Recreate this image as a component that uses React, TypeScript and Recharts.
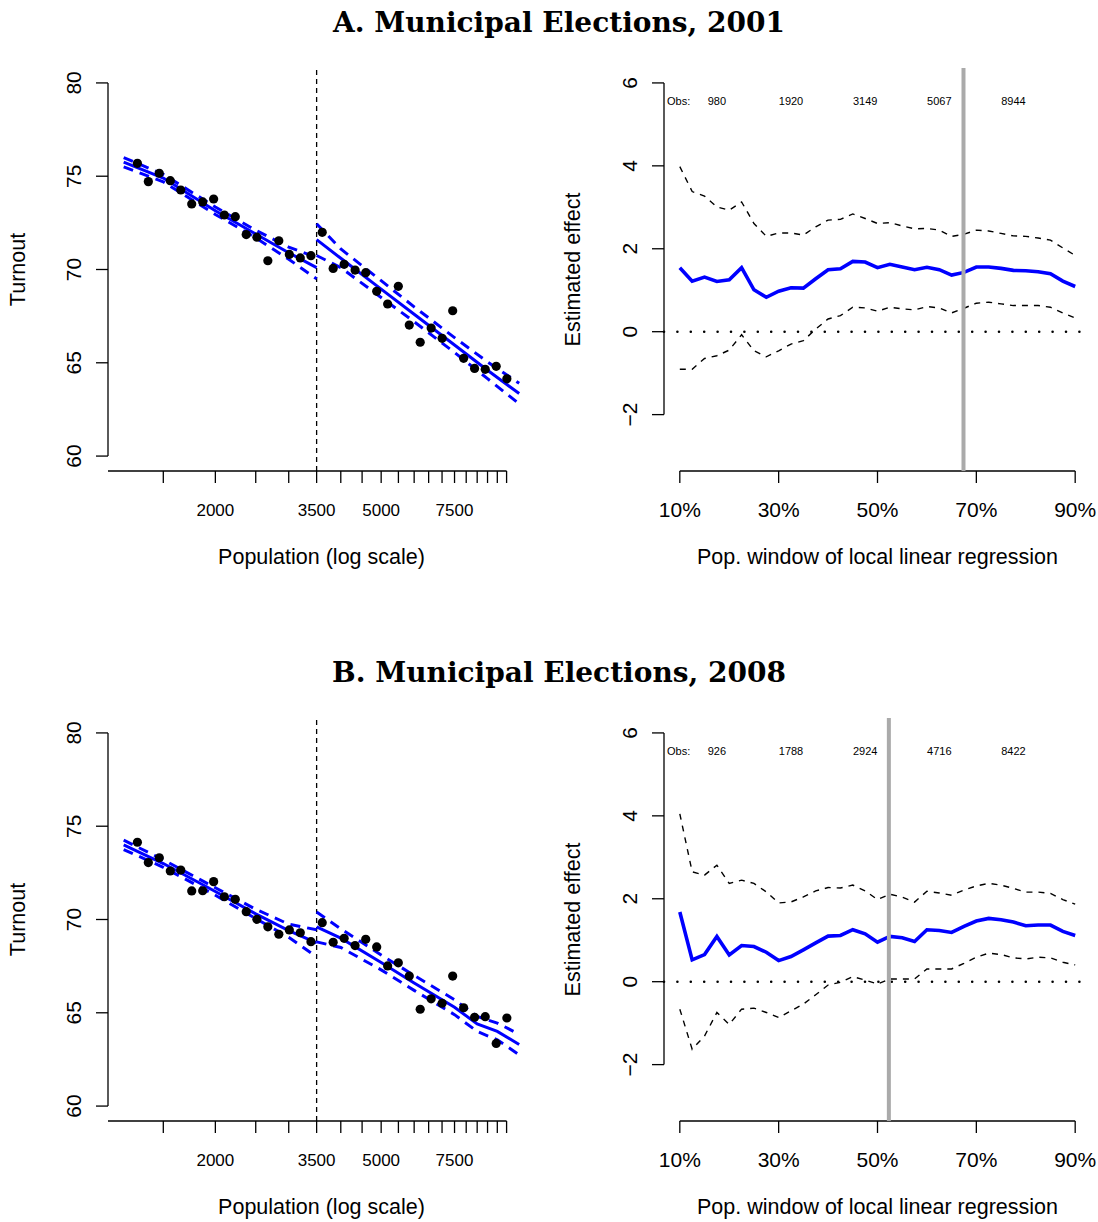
import React from 'react';
import { ComposedChart, XAxis, YAxis, Line, Scatter, ReferenceLine } from 'recharts';

// ---------- Data ----------
// bin centres (population) of the binned turnout averages
const popBins = [1300, 1381, 1467, 1559, 1652, 1755, 1865, 1981, 2102, 2233, 2372, 2516, 2673, 2840, 3010, 3198, 3392,
  3610, 3835, 4075, 4329, 4591, 4878, 5182, 5497, 5840, 6204, 6591, 7003, 7424, 7887, 8379, 8887, 9442, 10015];
const turnout2001 = [75.69, 74.71, 75.16, 74.76, 74.26, 73.51, 73.62, 73.78, 72.92, 72.83, 71.87, 71.73, 70.47, 71.54, 70.81, 70.62, 70.74,
  71.99, 70.06, 70.28, 69.97, 69.83, 68.83, 68.15, 69.10, 67.02, 66.10, 66.86, 66.31, 67.79, 65.24, 64.70, 64.65, 64.81, 64.14];
const turnout2008 = [74.14, 73.05, 73.31, 72.60, 72.65, 71.53, 71.54, 72.03, 71.22, 71.08, 70.42, 70.01, 69.61, 69.21, 69.44, 69.29, 68.81,
  69.83, 68.78, 68.99, 68.60, 68.94, 68.53, 67.51, 67.68, 66.97, 65.19, 65.75, 65.51, 66.97, 65.27, 64.76, 64.79, 63.36, 64.72];

// local linear fits (left / right of the 3500 threshold)
const fitPopLeft = [1205, 1500, 2000, 2500, 3000, 3500];
const fit2001L = [75.75, 74.9, 73.15, 71.9, 70.9, 70.1];
const lo2001L = [75.5, 74.7, 72.95, 71.7, 70.55, 69.5];
const hi2001L = [76.0, 75.1, 73.35, 72.1, 71.2, 70.65];
const fitPopRight2001 = [3500, 4000, 5000, 6000, 7500, 9000, 10720];
const fit2001R = [71.6, 70.6, 68.95, 67.6, 65.95, 64.6, 63.35];
const lo2001R = [70.75, 70.1, 68.5, 67.2, 65.55, 64.15, 62.8];
const hi2001R = [72.45, 71.1, 69.4, 68.0, 66.35, 65.05, 63.9];

const fit2008L = [74.0, 73.0, 71.5, 70.3, 69.4, 68.75];
const lo2008L = [73.75, 72.8, 71.3, 70.05, 69.05, 68.0];
const hi2008L = [74.25, 73.2, 71.7, 70.55, 69.75, 69.45];
const fitPopRight2008 = [3500, 4000, 5000, 6000, 7500, 8500, 9500, 10720];
const fit2008R = [69.6, 69.0, 67.7, 66.6, 65.3, 64.4, 64.0, 63.3];
const lo2008R = [68.8, 68.5, 67.3, 66.2, 64.9, 64.0, 63.55, 62.75];
const hi2008R = [70.4, 69.5, 68.1, 67.0, 65.7, 64.8, 64.45, 63.85];

const popTicks = [1500, 2000, 2500, 3000, 3500, 4000, 4500, 5000, 5500, 6000, 6500, 7000, 7500, 8000, 8500, 9000, 9500, 10000];
const popTickLabels = [2000, 3500, 5000, 7500];
const turnoutTicks = [60, 65, 70, 75, 80];
const threshold = 3500;

// window-size sensitivity
const windows = [10, 12.5, 15, 17.5, 20, 22.5, 25, 27.5, 30, 32.5, 35, 37.5, 40, 42.5, 45, 47.5, 50, 52.5, 55, 57.5, 60,
  62.5, 65, 67.5, 70, 72.5, 75, 77.5, 80, 82.5, 85, 87.5, 90];
const est2001 = [1.544, 1.22, 1.317, 1.212, 1.253, 1.544, 1.01, 0.83, 0.977, 1.059, 1.05, 1.277, 1.495, 1.519, 1.697, 1.68,
  1.544, 1.624, 1.56, 1.495, 1.552, 1.495, 1.366, 1.43, 1.56, 1.56, 1.527, 1.479, 1.471, 1.447, 1.398, 1.22, 1.09];
const hiEst2001 = [3.98, 3.38, 3.27, 3.01, 2.93, 3.13, 2.61, 2.30, 2.38, 2.38, 2.33, 2.53, 2.69, 2.71, 2.84, 2.73, 2.61,
  2.63, 2.55, 2.48, 2.49, 2.45, 2.30, 2.35, 2.45, 2.43, 2.37, 2.31, 2.30, 2.26, 2.21, 2.02, 1.84];
const loEst2001 = [-0.905, -0.905, -0.646, -0.58, -0.444, -0.073, -0.46, -0.606, -0.46, -0.299, -0.218, 0.065, 0.307, 0.388,
  0.59, 0.574, 0.493, 0.59, 0.55, 0.525, 0.606, 0.574, 0.453, 0.566, 0.687, 0.711, 0.671, 0.63, 0.63, 0.63, 0.59, 0.453, 0.331];
const est2008 = [1.68, 0.526, 0.655, 1.09, 0.646, 0.873, 0.848, 0.711, 0.509, 0.606, 0.768, 0.937, 1.099, 1.115, 1.253,
  1.156, 0.954, 1.091, 1.059, 0.97, 1.253, 1.236, 1.188, 1.333, 1.462, 1.527, 1.495, 1.438, 1.35, 1.366, 1.366, 1.212, 1.115];
const hiEst2008 = [4.048, 2.65, 2.57, 2.81, 2.37, 2.45, 2.37, 2.165, 1.899, 1.923, 2.044, 2.19, 2.27, 2.26, 2.33, 2.19, 1.98,
  2.11, 2.04, 1.92, 2.18, 2.14, 2.085, 2.21, 2.31, 2.37, 2.33, 2.25, 2.16, 2.16, 2.13, 1.98, 1.87];
const loEst2008 = [-0.663, -1.63, -1.31, -0.743, -1.03, -0.663, -0.638, -0.743, -0.865, -0.703, -0.541, -0.315, -0.081,
  -0.016, 0.121, 0.04, -0.057, 0.065, 0.065, 0.065, 0.307, 0.307, 0.307, 0.444, 0.59, 0.687, 0.655, 0.574, 0.549, 0.59, 0.574, 0.469, 0.404];
const selectedWindow2001 = 67.4;
const selectedWindow2008 = 52.3;
const obsWindows = [17.5, 32.5, 47.5, 62.5, 77.5];
const obs2001 = [980, 1920, 3149, 5067, 8944];
const obs2008 = [926, 1788, 2924, 4716, 8422];
const obsLabelLevel = 5.56;
const obsTitleWindow = 7.4;
const windowTicks = [10, 30, 50, 70, 90];
const effectTicks = [-2, 0, 2, 4, 6];

// ---------- Styling ----------
const SANS = "'Liberation Sans', Arial, Helvetica, sans-serif";
const SERIF = "'DejaVu Serif', serif";
const BLUE = '#0000FF';
const TICK = { stroke: '#000', strokeWidth: 1.3 };

const fitRows = (xs: number[], fit: number[], lo: number[], hi: number[]) =>
  xs.map((x, i) => ({ x, fit: fit[i], lo: lo[i], hi: hi[i] }));

const fmtNum = (v: number) => (v < 0 ? `\u2212${Math.abs(v)}` : String(v));

const makeYTick = (bx: number) => (props: any) => {
  const { y, payload } = props;
  return (
    <text x={bx} y={y} transform={`rotate(-90, ${bx}, ${y})`} textAnchor="middle" fontSize={21} fontFamily={SANS} fill="#000">
      {fmtNum(payload.value)}
    </text>
  );
};

const XLogTick = (props: any) => {
  const { x, payload } = props;
  const lab = popTickLabels.includes(payload.value) ? String(payload.value) : '';
  return (
    <text x={x} y={516} textAnchor="middle" fontSize={17} fontFamily={SANS} fill="#000">{lab}</text>
  );
};

const XPctTick = (props: any) => {
  const { x, payload } = props;
  return (
    <text x={x} y={517} textAnchor="middle" fontSize={21} fontFamily={SANS} fill="#000">{`${payload.value}%`}</text>
  );
};

const DotShape = (p: any) => <circle cx={p.cx} cy={p.cy} r={4.6} fill="#000" />;

const ObsShape = (p: any) => (
  <text x={p.cx} y={p.cy} dy={4} textAnchor={p.payload.anchor} fontSize={11} fontFamily={SANS} fill="#000">
    {p.payload.label}
  </text>
);

const POP_DOMAIN = [1105, 11700];
const TURN_DOMAIN = [59.2, 80.8];
const WIN_DOMAIN = [6.8, 93.2];
const EFF_DOMAIN = [-3.36, 6.36];

function ScatterPanel({ top, turnout, left, right }: any) {
  const pts = popBins.map((x, i) => ({ x, y: turnout[i] }));
  const dashed = { stroke: BLUE, strokeWidth: 3, strokeDasharray: '10 7', dot: false, activeDot: false, isAnimationActive: false, type: 'linear' as const };
  const solid = { stroke: BLUE, strokeWidth: 3, dot: false, activeDot: false, isAnimationActive: false, type: 'linear' as const };
  return (
    <div style={{ position: 'absolute', left: 0, top }}>
      <ComposedChart width={549} height={650} margin={{ top: 68, right: 14, bottom: 79, left: 0 }}>
        <XAxis type="number" dataKey="x" scale="log" domain={POP_DOMAIN} allowDataOverflow ticks={popTicks} interval={0}
          axisLine={false} tickLine={TICK} tickSize={12} height={100} tick={XLogTick} />
        <YAxis type="number" domain={TURN_DOMAIN} allowDataOverflow ticks={turnoutTicks} interval={0}
          axisLine={false} tickLine={TICK} tickSize={12} width={108} tick={makeYTick(81)} />
        <ReferenceLine segment={[{ x: POP_DOMAIN[0], y: TURN_DOMAIN[0] }, { x: 10000, y: TURN_DOMAIN[0] }]} stroke="#000" strokeWidth={1.3} ifOverflow="visible" />
        <ReferenceLine segment={[{ x: POP_DOMAIN[0], y: 60 }, { x: POP_DOMAIN[0], y: 80 }]} stroke="#000" strokeWidth={1.3} ifOverflow="visible" />
        <ReferenceLine x={threshold} stroke="#000" strokeWidth={1.3} strokeDasharray="5 4" />
        <Line data={left} dataKey="fit" {...solid} />
        <Line data={left} dataKey="lo" {...dashed} />
        <Line data={left} dataKey="hi" {...dashed} />
        <Line data={right} dataKey="fit" {...solid} />
        <Line data={right} dataKey="lo" {...dashed} />
        <Line data={right} dataKey="hi" {...dashed} />
        <Scatter data={pts} dataKey="y" shape={DotShape} isAnimationActive={false} />
      </ComposedChart>
    </div>
  );
}

function EffectPanel({ top, est, lo, hi, selected, obs }: any) {
  const rows = windows.map((x, i) => ({ x, est: est[i], lo: lo[i], hi: hi[i] }));
  const obsRows = [{ x: obsTitleWindow, y: obsLabelLevel, label: 'Obs:', anchor: 'start' },
    ...obsWindows.map((x, i) => ({ x, y: obsLabelLevel, label: String(obs[i]), anchor: 'middle' }))];
  const ci = { stroke: '#000', strokeWidth: 1.4, strokeDasharray: '6 6', dot: false, activeDot: false, isAnimationActive: false, type: 'linear' as const };
  return (
    <div style={{ position: 'absolute', left: 549, top }}>
      <ComposedChart width={549} height={650} margin={{ top: 68, right: 7, bottom: 79, left: 0 }}>
        <XAxis type="number" dataKey="x" domain={WIN_DOMAIN} allowDataOverflow ticks={windowTicks} interval={0}
          axisLine={false} tickLine={TICK} tickSize={12} height={100} tick={XPctTick} />
        <YAxis type="number" domain={EFF_DOMAIN} allowDataOverflow ticks={effectTicks} interval={0}
          axisLine={false} tickLine={TICK} tickSize={12} width={115} tick={makeYTick(88)} />
        <ReferenceLine segment={[{ x: 10, y: EFF_DOMAIN[0] }, { x: 90, y: EFF_DOMAIN[0] }]} stroke="#000" strokeWidth={1.3} ifOverflow="visible" />
        <ReferenceLine segment={[{ x: WIN_DOMAIN[0], y: -2 }, { x: WIN_DOMAIN[0], y: 6 }]} stroke="#000" strokeWidth={1.3} ifOverflow="visible" />
        <ReferenceLine y={0} stroke="#000" strokeWidth={2.6} strokeDasharray="0 13.4" strokeLinecap="round" />
        <Line data={rows} dataKey="hi" {...ci} />
        <Line data={rows} dataKey="lo" {...ci} />
        <Line data={rows} dataKey="est" stroke={BLUE} strokeWidth={3.6} dot={false} activeDot={false} isAnimationActive={false} type="linear" />
        <ReferenceLine x={selected} stroke="#AAAAAA" strokeWidth={4} />
        <Scatter data={obsRows} dataKey="y" shape={ObsShape} isAnimationActive={false} />
      </ComposedChart>
    </div>
  );
}

export default function App() {
  const panels = [
    { top: 0, title: 'A. Municipal Elections, 2001', turnout: turnout2001,
      left: fitRows(fitPopLeft, fit2001L, lo2001L, hi2001L), right: fitRows(fitPopRight2001, fit2001R, lo2001R, hi2001R),
      est: est2001, lo: loEst2001, hi: hiEst2001, selected: selectedWindow2001, obs: obs2001 },
    { top: 650, title: 'B. Municipal Elections, 2008', turnout: turnout2008,
      left: fitRows(fitPopLeft, fit2008L, lo2008L, hi2008L), right: fitRows(fitPopRight2008, fit2008R, lo2008R, hi2008R),
      est: est2008, lo: loEst2008, hi: hiEst2008, selected: selectedWindow2008, obs: obs2008 },
  ];
  return (
    <div style={{ position: 'absolute', left: 0, top: 0, width: 1098, height: 1222, background: '#fff' }}>
      {panels.map((p) => (
        <React.Fragment key={p.title}>
          <ScatterPanel top={p.top} turnout={p.turnout} left={p.left} right={p.right} />
          <EffectPanel top={p.top} est={p.est} lo={p.lo} hi={p.hi} selected={p.selected} obs={p.obs} />
        </React.Fragment>
      ))}
      <svg width={1098} height={1222} style={{ position: 'absolute', left: 0, top: 0, pointerEvents: 'none' }}>
        {panels.map((p) => (
          <g key={p.title} transform={`translate(0, ${p.top})`}>
            <text x={559} y={32} textAnchor="middle" fontFamily={SERIF} fontWeight="bold" fontSize={28} fill="#000">{p.title}</text>
            <text x={321.5} y={564} textAnchor="middle" fontFamily={SANS} fontSize={21.5} fill="#000">Population (log scale)</text>
            <text x={877.5} y={564} textAnchor="middle" fontFamily={SANS} fontSize={21.5} fill="#000">Pop. window of local linear regression</text>
            <text x={25} y={269.5} transform="rotate(-90, 25, 269.5)" textAnchor="middle" fontFamily={SANS} fontSize={21.5} fill="#000">Turnout</text>
            <text x={580} y={269.5} transform="rotate(-90, 580, 269.5)" textAnchor="middle" fontFamily={SANS} fontSize={21.5} fill="#000">Estimated effect</text>
          </g>
        ))}
      </svg>
    </div>
  );
}
